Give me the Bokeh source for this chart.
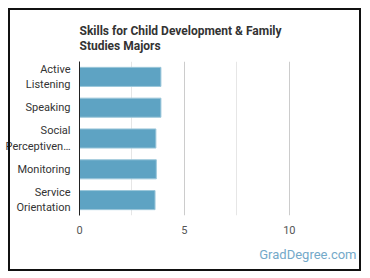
from bokeh.plotting import figure
from bokeh.models import FactorRange, Range1d, FixedTicker, Title, ColumnDataSource, InlineStyleSheet
from bokeh.embed import file_html
from bokeh.resources import INLINE

skills = ["Active\nListening", "Speaking", "Social\nPerceptiven\u2026", "Monitoring", "Service\nOrientation"]
values = [3.88, 3.88, 3.64, 3.66, 3.60]
x_ticks = [0, 5, 10]
x_minor = [2.5, 7.5]

FONT = "Roboto"

p = figure(width=370, height=278, output_backend="svg", toolbar_location=None,
           y_range=FactorRange(factors=list(reversed(skills))),
           x_range=Range1d(0, 13.2),
           min_border_left=79, min_border_right=14, min_border_top=61, min_border_bottom=63)
p.stylesheets = [InlineStyleSheet(css="""
:host::after {
  content: "";
  position: absolute;
  left: 8px; top: 8px; width: 353px; height: 263px;
  border: 2px solid #111;
  box-sizing: border-box;
  pointer-events: none;
  z-index: 1000;
}
""")]

src = ColumnDataSource(dict(y=skills, v=values))
p.hbar(y="y", right="v", left=0, height=0.62, source=src,
       fill_color="#5ea3c3", line_color="#9cc7da", line_width=1)

p.title.text = "Skills for Child Development & Family\nStudies Majors"
p.title.text_font = FONT
p.title.text_font_size = "12px"
p.title.text_font_style = "bold"
p.title.text_color = "#333333"
p.title.text_line_height = 1.12
p.title.align = "left"
p.title.offset = 0
p.title.standoff = 16

p.outline_line_color = None
p.background_fill_color = "white"
p.border_fill_color = "white"

p.xaxis.ticker = FixedTicker(ticks=x_ticks, minor_ticks=x_minor)
p.xaxis.axis_line_color = None
p.xaxis.major_tick_line_color = None
p.xaxis.minor_tick_line_color = None
p.xaxis.major_label_text_font = FONT
p.xaxis.major_label_text_font_size = "11px"
p.xaxis.major_label_text_color = "#555555"
p.xaxis.major_label_standoff = 4

p.yaxis.axis_line_color = "#222222"
p.yaxis.axis_line_width = 1
p.yaxis.major_tick_line_color = None
p.yaxis.minor_tick_line_color = None
p.yaxis.major_label_text_font = FONT
p.yaxis.major_label_text_font_size = "11px"
p.yaxis.major_label_text_color = "#333333"
p.yaxis.major_label_standoff = 3

p.xgrid.grid_line_color = "#cccccc"
p.xgrid.minor_grid_line_color = "#e6e6e6"
p.ygrid.grid_line_color = None

p.add_layout(Title(text="GradDegree.com", align="right", text_font=FONT, text_font_size="13px",
                   text_color="#74a9c9", text_font_style="normal", standoff=16), "below")

open("out.html", "w").write(file_html(p, INLINE))
